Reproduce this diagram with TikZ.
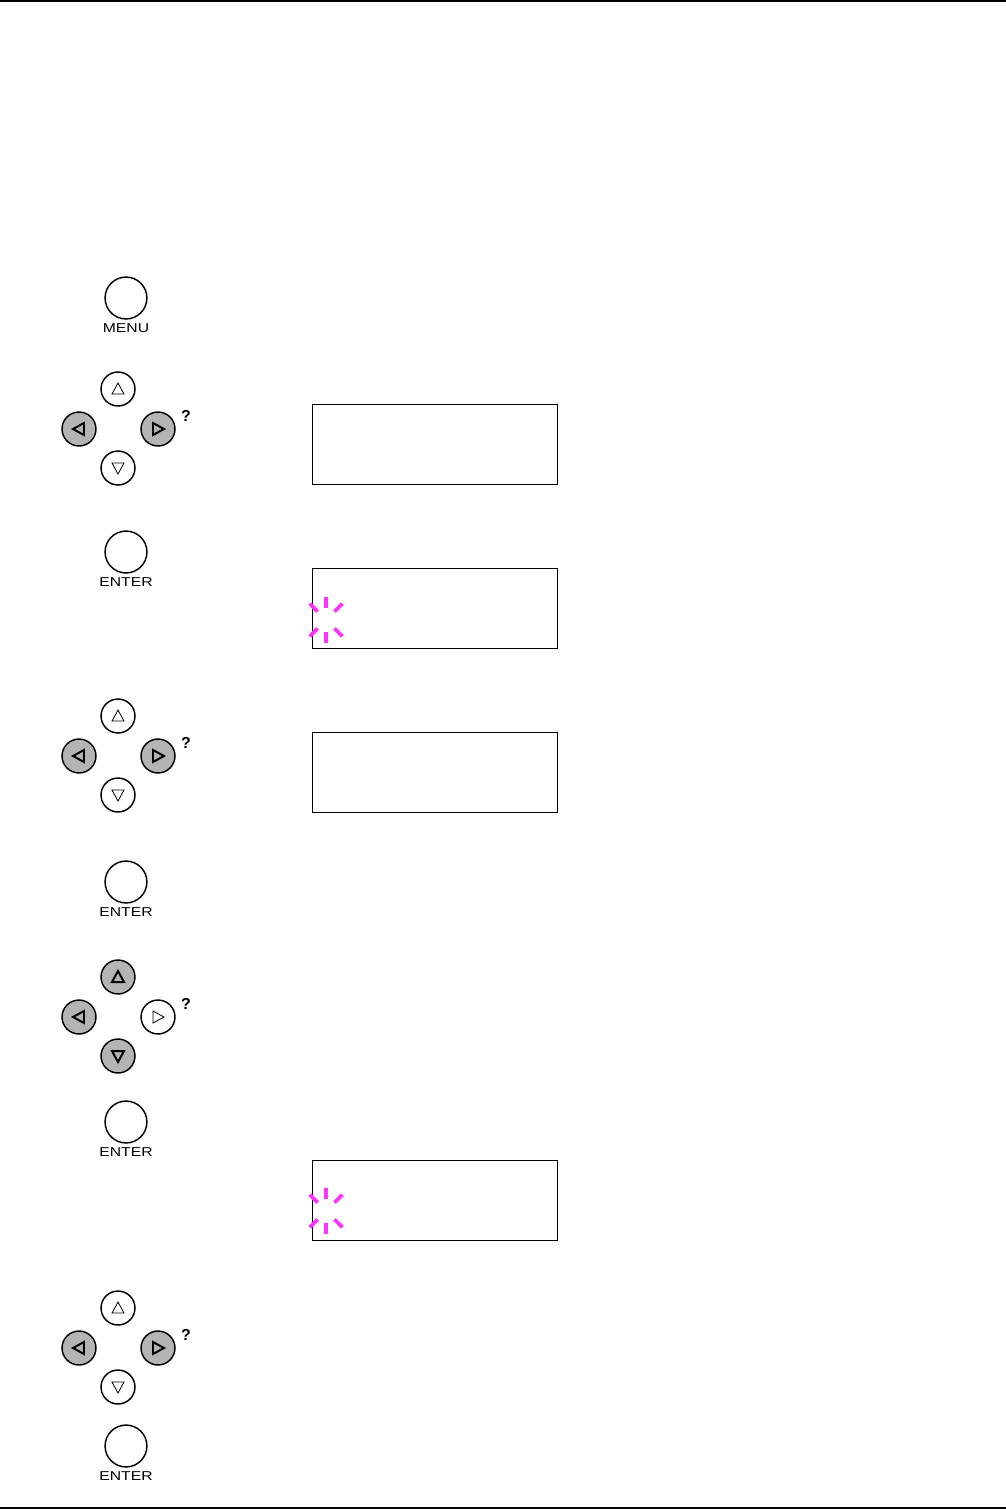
\documentclass[tikz,border=0pt]{standalone}
\usepackage{fontspec}
\setmainfont{Liberation Sans}
\usetikzlibrary{positioning, calc}
\definecolor{keyGrey}{RGB}{180,180,180}
\definecolor{blinkPink}{RGB}{255,51,255}
\begin{document}
\begin{tikzpicture}[
    x=0.0265cm, y=-0.0265cm,
    bigkey/.style={circle, draw, line width=1.1pt, minimum size=1.11cm, inner sep=0pt},
    padkey/.style={circle, draw, line width=1.1pt, minimum size=0.9cm, inner sep=0pt},
    keylabel/.style={font=\fontsize{9.7}{11}\selectfont, inner sep=0pt, xscale=1.22},
    hint/.style={font=\fontsize{12}{13}\selectfont\bfseries, inner sep=0pt},
    lcd/.style={rectangle, draw, line width=0.7pt, minimum width=6.47cm,
                minimum height=2.12cm, inner sep=0pt},
    blink/.style={draw=blinkPink, line width=2.8pt},
    rule/.style={line width=1.2pt}
  ]
    \useasboundingbox (0,0) rectangle (1006,1509);
    % page rules
    \coordinate (topL) at (0,1);
    \coordinate (topR) at (1006,1);
    \coordinate (botL) at (0,1508);
    \coordinate (botR) at (1006,1508);
    \draw[rule] (topL) -- (topR);
    \draw[rule] (botL) -- (botR);

    % MENU key
    \node[bigkey] (menu) at (126,298) {};
    \node[keylabel] (menuLbl) at (126,328) {MENU};

    % ENTER keys
    \foreach \n/\y in {1/552, 2/882, 3/1122, 4/1446} {
      \node[bigkey] (enter\n) at (126,\y) {};
      \node[keylabel] (enterLbl\n) at (126,\y+30) {ENTER};
    }

    % arrow pads
    \foreach \n/\y/\vf/\vw/\rf/\rw in {1/429/white/0.6pt/keyGrey/1.5pt,
                                       2/756/white/0.6pt/keyGrey/1.5pt,
                                       3/1017/keyGrey/1.5pt/white/0.6pt,
                                       4/1348/white/0.6pt/keyGrey/1.5pt} {
      \node[padkey, fill=\vf] (up\n) at (118,\y-40) {};
      \node[padkey, fill=\vf] (down\n) at (118,\y+39) {};
      \node[padkey, fill=keyGrey] (left\n) at (79,\y) {};
      \node[padkey, fill=\rf] (right\n) at (158,\y) {};
      \node[hint] (help\n) at (186,\y-13) {?};
      \draw[line width=\vw, line join=miter]
        ([shift={(0,-6)}]up\n.center) -- ([shift={(-6,5)}]up\n.center)
        -- ([shift={(6,5)}]up\n.center) -- cycle;
      \draw[line width=\vw, line join=miter]
        ([shift={(0,6)}]down\n.center) -- ([shift={(-6,-5)}]down\n.center)
        -- ([shift={(6,-5)}]down\n.center) -- cycle;
      \draw[line width=1.5pt, line join=miter]
        ([shift={(-6,0)}]left\n.center) -- ([shift={(5,-6)}]left\n.center)
        -- ([shift={(5,6)}]left\n.center) -- cycle;
      \draw[line width=\rw, line join=miter]
        ([shift={(6,0)}]right\n.center) -- ([shift={(-5,-6)}]right\n.center)
        -- ([shift={(-5,6)}]right\n.center) -- cycle;
    }

    % displays
    \node[lcd] (lcd1) at (435,444) {};
    \node[lcd] (lcd2) at (435,608.5) {};
    \node[lcd] (lcd3) at (435,772) {};
    \node[lcd] (lcd4) at (435,1200) {};

    % blinking cursors
    \coordinate (cur2) at (326,620);
    \coordinate (cur4) at (326,1211);
    \foreach \c in {cur2, cur4}
      \foreach \a in {45, 90, 135, 225, 270, 315}
        \draw[blink] ([shift={(\a:12)}]\c) -- ([shift={(\a:23)}]\c);
\end{tikzpicture}
\end{document}
